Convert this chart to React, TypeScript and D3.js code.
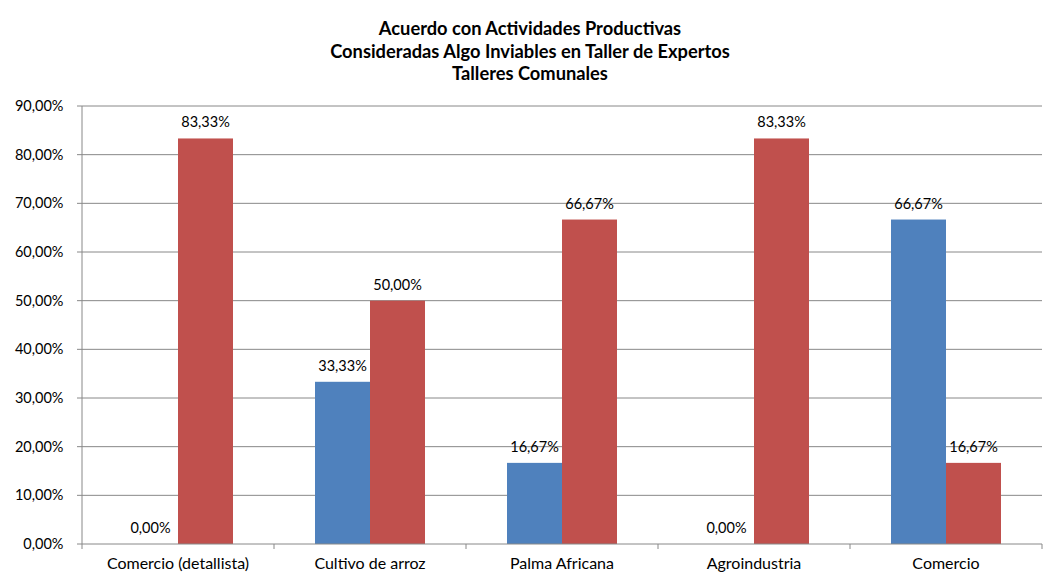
import React from "react";
import * as d3 from "d3";

const categories = ["Comercio (detallista)", "Cultivo de arroz", "Palma Africana", "Agroindustria", "Comercio"];
const seriesBlue = [0, 33.33, 16.67, 0, 66.67];
const seriesRed = [83.33, 50.0, 66.67, 83.33, 16.67];
const yTicks = [0, 10, 20, 30, 40, 50, 60, 70, 80, 90];
const titleLines = [
  "Acuerdo con Actividades Productivas",
  "Consideradas Algo Inviables en Taller de Expertos",
  "Talleres Comunales",
];

const W = 1049;
const H = 577;
const left = 82;
const right = 1042;
const top = 106;
const bottom = 544;
const font = "Lato, 'Open Sans', sans-serif";

const fmt = (v: number) => v.toFixed(2).replace(".", ",") + "%";

export default function App() {
  const x = d3.scaleBand<string>().domain(categories).range([left, right]).paddingInner(0).paddingOuter(0);
  const y = d3.scaleLinear().domain([0, 90]).range([bottom, top]);
  const bw = x.bandwidth();
  const gap = bw * (82 / 192);
  const barW = (bw - gap) / 2;
  const series = [
    { values: seriesBlue, color: "#4F81BD" },
    { values: seriesRed, color: "#C0504D" },
  ];
  return (
    <svg width={W} height={H} style={{ position: "absolute", left: 0, top: 0, background: "#fff" }}>
      <rect x={0} y={0} width={W} height={H} fill="#fff" />
      {titleLines.map((t, i) => (
        <text key={i} x={530} y={35 + i * 22.5} textAnchor="middle" fontFamily={font} fontWeight="bold" fontSize={18.3} fill="#000">
          {t}
        </text>
      ))}
      {yTicks.map((t) => (
        <g key={t}>
          {t > 0 && <line x1={left} x2={right} y1={y(t)} y2={y(t)} stroke="#888" strokeWidth={1} />}
          <line x1={left - 5} x2={left} y1={y(t)} y2={y(t)} stroke="#888" strokeWidth={1} />
          <text x={63.5} y={y(t) + 5} textAnchor="end" fontFamily={font} fontSize={14.5} fill="#000">
            {fmt(t)}
          </text>
        </g>
      ))}
      {series.map((s, si) =>
        s.values.map((v, i) => {
          const bx = (x(categories[i]) as number) + gap / 2 + si * barW;
          return (
            <g key={`${si}-${i}`}>
              {v > 0 && <rect x={bx} y={y(v)} width={barW} height={bottom - y(v)} fill={s.color} />}
              <text x={bx + barW / 2} y={y(v) - 11} textAnchor="middle" fontFamily={font} fontSize={14.5} fill="#000">
                {fmt(v)}
              </text>
            </g>
          );
        })
      )}
      <line x1={left} x2={left} y1={top} y2={bottom} stroke="#888" strokeWidth={1} />
      <line x1={left} x2={right} y1={bottom} y2={bottom} stroke="#888" strokeWidth={1} />
      {[...categories.map((c) => x(c) as number), right].map((tx, i) => (
        <line key={i} x1={tx} x2={tx} y1={bottom} y2={bottom + 5} stroke="#888" strokeWidth={1} />
      ))}
      {categories.map((c) => (
        <text key={c} x={(x(c) as number) + bw / 2} y={569} textAnchor="middle" fontFamily={font} fontSize={16} fill="#000">
          {c}
        </text>
      ))}
    </svg>
  );
}
